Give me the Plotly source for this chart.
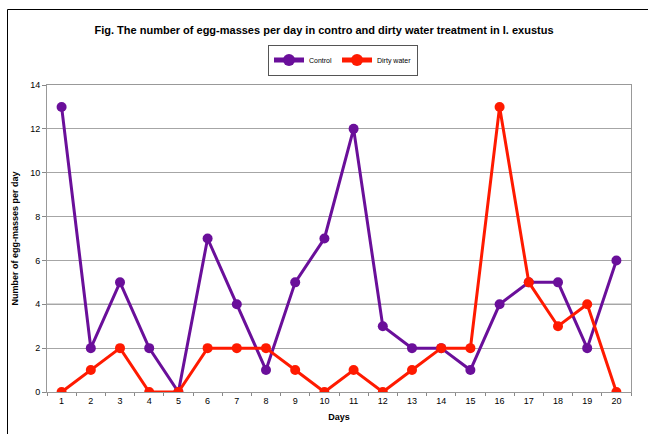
import plotly.graph_objects as go

days = [str(i) for i in range(1, 21)]
control = [13, 2, 5, 2, 0, 7, 4, 1, 5, 7, 12, 3, 2, 2, 1, 4, 5, 5, 2, 6]
dirty = [0, 1, 2, 0, 0, 2, 2, 2, 1, 0, 1, 0, 1, 2, 2, 13, 5, 3, 4, 0]

W, H = 648, 434
L, R, T, B = 47, 17, 85, 42
pw, ph = W - L - R, H - T - B

fig = go.Figure()
fig.add_trace(go.Scatter(x=days, y=control, name="Control", mode="lines+markers",
                         line=dict(color="#6a0f9a", width=3),
                         marker=dict(color="#6a0f9a", size=10)))
fig.add_trace(go.Scatter(x=days, y=dirty, name="Dirty water", mode="lines+markers",
                         line=dict(color="#ff1a00", width=3),
                         marker=dict(color="#ff1a00", size=10)))

def px2paper_x(px):
    return (px - L) / pw

def px2paper_y(py):
    return (H - B - py) / ph

shapes = [
    dict(type="line", xref="paper", yref="y", x0=0, x1=1, y0=4, y1=4,
         line=dict(color="#404040", width=1), layer="below"),
    dict(type="line", xref="paper", yref="paper", x0=px2paper_x(7.5), x1=px2paper_x(7.5),
         y0=px2paper_y(440), y1=px2paper_y(9.5), line=dict(color="black", width=1)),
    dict(type="line", xref="paper", yref="paper", x0=px2paper_x(7.5), x1=px2paper_x(650),
         y0=px2paper_y(9.5), y1=px2paper_y(9.5), line=dict(color="black", width=1)),
]

fig.update_layout(
    width=W, height=H,
    margin=dict(l=L, r=R, t=T, b=B),
    paper_bgcolor="white", plot_bgcolor="white",
    font=dict(family="Liberation Sans, Arial, sans-serif", size=9, color="black"),
    title=dict(text="<b>Fig. The number of egg-masses per day in contro and dirty water treatment in I. exustus</b>",
               x=0.5, xanchor="center", y=1 - 30 / H, yanchor="middle",
               font=dict(size=11)),
    legend=dict(orientation="h", x=px2paper_x(343), xanchor="center", y=px2paper_y(60), yanchor="middle",
                bordercolor="#555555", borderwidth=1, font=dict(size=7),
                itemwidth=30, tracegroupgap=0, itemsizing="constant"),
    showlegend=True,
    shapes=shapes,
    xaxis=dict(type="category", range=[-0.5, 19.5], autorange=False,
               title=dict(text="<b>Days</b>", font=dict(size=9), standoff=8),
               showgrid=False, ticks="outside", tickson="boundaries", ticklen=3,
               tickcolor="#888888", showline=True, linecolor="#999999", mirror=True,
               tickfont=dict(size=9)),
    yaxis=dict(range=[0, 14], dtick=2, title=dict(text="<b>Number of egg-masses per day</b>", font=dict(size=9), standoff=10),
               showgrid=True, gridcolor="#a6a6a6", gridwidth=1, ticks="outside", ticklen=4,
               tickcolor="#888888", showline=True, linecolor="#999999", mirror=True,
               zeroline=False, tickfont=dict(size=9)),
)

fig.write_html("out.html", config={"displayModeBar": False},
               post_script="document.body.style.margin='0';document.body.style.overflow='hidden';")
